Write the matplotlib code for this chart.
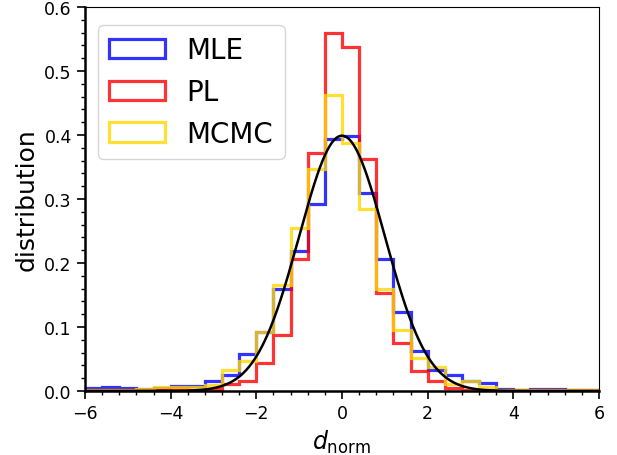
import numpy as np
import matplotlib
matplotlib.use("Agg")
import matplotlib.pyplot as plt
from matplotlib.ticker import MultipleLocator

# bin edges: 30 bins of width 0.4 from -6 to 6
edges = np.linspace(-6, 6, 31)
centers = 0.5 * (edges[:-1] + edges[1:])

mle = [0.004, 0.007, 0.004, 0.003, 0.005, 0.008, 0.008, 0.016, 0.025, 0.058,
       0.092, 0.159, 0.218, 0.292, 0.393, 0.398, 0.310, 0.206, 0.123, 0.062,
       0.033, 0.025, 0.015, 0.013, 0.003, 0.002, 0.003, 0.003, 0.002, 0.002]
pl = [0.001, 0.001, 0.001, 0.002, 0.002, 0.003, 0.002, 0.003, 0.011, 0.016,
      0.043, 0.088, 0.207, 0.372, 0.560, 0.538, 0.362, 0.153, 0.075, 0.032,
      0.016, 0.004, 0.002, 0.001, 0.001, 0.001, 0.001, 0.001, 0.001, 0.002]
mcmc = [0.002, 0.002, 0.002, 0.003, 0.006, 0.006, 0.006, 0.009, 0.033, 0.047,
        0.092, 0.166, 0.255, 0.347, 0.463, 0.387, 0.284, 0.159, 0.096, 0.051,
        0.037, 0.011, 0.016, 0.006, 0.002, 0.002, 0.002, 0.002, 0.002, 0.001]

# standard normal reference curve
xg = np.linspace(-6, 6, 600)
yg = np.exp(-0.5 * xg**2) / np.sqrt(2 * np.pi)

fig = plt.figure(figsize=(6.17, 4.56), dpi=100)
ax = fig.add_axes([85/617, 1 - 392/456, 514/617, 384/456])

ax.hist(centers, bins=edges, weights=mle, histtype="step", color="blue",
        alpha=0.8, linewidth=2.3, label="MLE")
ax.hist(centers, bins=edges, weights=pl, histtype="step", color="red",
        alpha=0.8, linewidth=2.3, label="PL")
ax.hist(centers, bins=edges, weights=mcmc, histtype="step", color="gold",
        alpha=0.8, linewidth=2.3, label="MCMC")
ax.plot(xg, yg, color="black", linewidth=1.8)

ax.set_xlim(-6, 6)
ax.set_ylim(0, 0.6)
ax.xaxis.set_major_locator(MultipleLocator(2))
ax.xaxis.set_minor_locator(MultipleLocator(0.4))
ax.yaxis.set_major_locator(MultipleLocator(0.1))
ax.yaxis.set_minor_locator(MultipleLocator(0.02))
ax.tick_params(which="major", length=6, width=1.2, labelsize=12.5)
ax.tick_params(which="minor", length=3, width=1)
for s in ["left", "bottom"]:
    ax.spines[s].set_linewidth(1.8)

ax.set_xlabel(r"$d_{\rm norm}$", fontsize=17)
ax.set_ylabel("distribution", fontsize=18)
ax.legend(loc="upper left", bbox_to_anchor=(0.025, 0.953), borderaxespad=0,
          fontsize=20)

fig.savefig("out.png", dpi=100)
